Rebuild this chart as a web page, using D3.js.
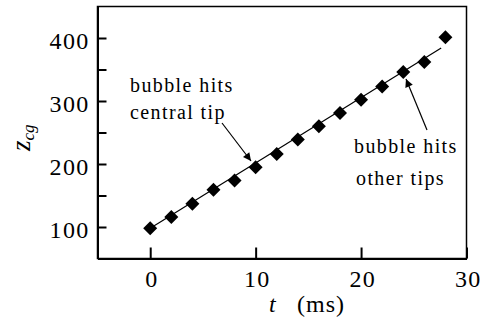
<!DOCTYPE html>
<html>
<head>
<meta charset="utf-8">
<script src="https://cdn.jsdelivr.net/npm/d3@7"></script>
<style>
    body { margin: 0; background: #fff; }
    svg { display: block; font-family: "Liberation Serif", "Times New Roman", serif; }
    svg text { fill: #000; }
    .axis { font-family: "Liberation Serif", "Times New Roman", serif; }
    .axis path, .axis line { stroke: #000; }
    .axis text { font-size: 24px; letter-spacing: 1.3px; }
    .note { font-size: 20px; letter-spacing: 1.4px; }
</style>
</head>
<body>
<svg class="graph" width="492" height="320"></svg>
<script>
// t in ms, z_cg (centre of gravity height)
var times = [0, 2, 4, 6, 8, 10, 12, 14, 16, 18, 20, 22, 24, 26, 28];
var zcg = [98, 116, 137, 159, 174, 195, 216, 239, 260, 281, 302, 323, 346, 362, 401];
// straight fitted line, end points
var fitT = [0, 27.6];
var fitZ = [98, 384];
var xTicks = [0, 10, 20, 30];
var yTicks = [100, 150, 200, 250, 300, 350, 400];

var svg = d3.select("svg.graph");
var xScale = d3.scaleLinear().domain([-5, 30]).range([97.5, 466.5]);
var yScale = d3.scaleLinear().domain([50, 450]).range([258.5, 6.5]);

// frame
svg.append("rect")
    .attr("x", xScale(-5))
    .attr("y", yScale(450))
    .attr("width", xScale(30) - xScale(-5))
    .attr("height", yScale(50) - yScale(450))
    .attr("fill", "none")
    .attr("stroke", "#000")
    .attr("stroke-width", 1.5);

var xAxis = d3.axisBottom(xScale)
    .tickValues(xTicks)
    .tickSizeInner(-11)
    .tickSizeOuter(0)
    .tickPadding(11)
    .tickFormat(d3.format("d"));
svg.append("g")
    .attr("class", "axis")
    .attr("transform", "translate(0," + yScale(50) + ")")
    .call(xAxis)
    .call(function (g) {
        g.select(".domain").attr("stroke-width", 2);
        g.selectAll("line").attr("stroke-width", 2);
        g.selectAll("text").attr("dx", "0.05em");
    });

var yAxis = d3.axisLeft(yScale)
    .tickValues(yTicks)
    .tickSizeInner(-9)
    .tickSizeOuter(0)
    .tickPadding(8)
    .tickFormat(function (d) { return d % 100 === 0 ? d : ""; });
svg.append("g")
    .attr("class", "axis")
    .attr("transform", "translate(" + xScale(-5) + ",0)")
    .call(yAxis)
    .call(function (g) {
        g.select(".domain").attr("stroke-width", 2);
        g.selectAll("line").attr("stroke-width", 2);
        g.selectAll("text").attr("dy", "0.45em");
    });

// axis titles
var xTitle = svg.append("text")
    .attr("x", 269)
    .attr("y", 312)
    .attr("font-size", 24)
    .attr("letter-spacing", 1);
xTitle.append("tspan").attr("font-style", "italic").text("t");
xTitle.append("tspan").attr("x", 297).text("(ms)");

var yTitle = svg.append("text")
    .attr("transform", "translate(30,151) rotate(-90)")
    .attr("font-size", 27);
yTitle.append("tspan").attr("font-style", "italic").text("z");
yTitle.append("tspan").attr("font-style", "italic").attr("font-size", 17).attr("dy", 4).text("cg");

// fitted line
var line = d3.line()
    .x(function (d) { return xScale(d[0]); })
    .y(function (d) { return yScale(d[1]); });
svg.append("path")
    .attr("d", line(d3.zip(fitT, fitZ)))
    .attr("fill", "none")
    .attr("stroke", "#000")
    .attr("stroke-width", 1.2);

// diamonds
var diamond = d3.symbol().type(d3.symbolSquare).size(98);
svg.selectAll("path.pt")
    .data(d3.zip(times, zcg))
    .enter()
    .append("path")
    .classed("pt", true)
    .attr("d", diamond)
    .attr("transform", function (d) {
        return "translate(" + xScale(d[0]) + "," + yScale(d[1]) + ") rotate(45)";
    })
    .attr("fill", "#000");

// annotations
svg.append("defs").append("marker")
    .attr("id", "head")
    .attr("viewBox", "0 0 10 10")
    .attr("refX", 10)
    .attr("refY", 5)
    .attr("markerUnits", "userSpaceOnUse")
    .attr("markerWidth", 11)
    .attr("markerHeight", 8)
    .attr("orient", "auto")
    .append("path")
    .attr("d", "M0,0L10,5L0,10Z")
    .attr("fill", "#000");

var note1 = svg.append("text").attr("class", "note");
note1.append("tspan").attr("x", 130).attr("y", 92).text("bubble hits");
note1.append("tspan").attr("x", 130).attr("y", 119).text("central tip");

var note2 = svg.append("text").attr("class", "note");
note2.append("tspan").attr("x", 354).attr("y", 153).text("bubble hits");
note2.append("tspan").attr("x", 356).attr("y", 185).text("other tips");

svg.append("line")
    .attr("x1", 222).attr("y1", 123)
    .attr("x2", 251).attr("y2", 161)
    .attr("stroke", "#000")
    .attr("stroke-width", 1.2)
    .attr("marker-end", "url(#head)");
svg.append("line")
    .attr("x1", 427).attr("y1", 130)
    .attr("x2", 406).attr("y2", 79)
    .attr("stroke", "#000")
    .attr("stroke-width", 1.2)
    .attr("marker-end", "url(#head)");
</script>
</body>
</html>
